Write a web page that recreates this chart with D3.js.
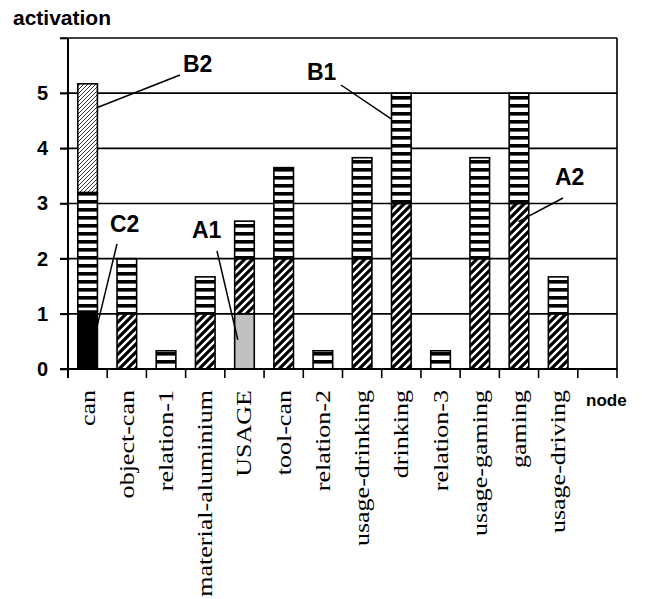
<!DOCTYPE html>
<html>
<head>
<meta charset="utf-8">
<script src="https://cdn.jsdelivr.net/npm/d3@7/dist/d3.min.js"></script>
<style>
  html, body { margin: 0; padding: 0; background: #fff; }
  svg { display: block; }
</style>
</head>
<body>
<svg id="chart" width="646" height="599"></svg>
<script>
// ---------- data ----------
const categories = ["can", "object-can", "relation-1", "material-aluminium", "USAGE", "tool-can",
  "relation-2", "usage-drinking", "drinking", "relation-3", "usage-gaming", "gaming", "usage-driving", ""];
// stacked segments, bottom to top
const solidValues   = [1.05, 0, 0, 0, 0, 0, 0, 0, 0, 0, 0, 0, 0, 0];
const grayValues    = [0, 0, 0, 0, 1, 0, 0, 0, 0, 0, 0, 0, 0, 0];
const hatchValues   = [0, 1, 0, 1, 1, 2, 0, 2, 3, 0, 2, 3, 1, 0];
const stripeValues  = [2.15, 1, 0.33, 0.67, 0.68, 1.65, 0.33, 1.83, 2, 0.33, 1.83, 2, 0.67, 0];
const fineValues    = [1.97, 0, 0, 0, 0, 0, 0, 0, 0, 0, 0, 0, 0, 0];
const seriesKeys = ["solid", "gray", "hatch", "stripe", "fine"];
const yTicks = [0, 1, 2, 3, 4, 5, 6];
const yTickLabels = ["0", "1", "2", "3", "4", "5", ""];
const yLabel = "activation";
const xLabel = "node";
// annotations: label, category pointed at, value pointed at
const annoLabels = ["B2", "B1", "C2", "A1", "A2"];
const annoCats   = ["can", "drinking", "can", "USAGE", "gaming"];
const annoValues = [4.74, 4.53, 0.8, 0.53, 2.67];

(function () {
// ---------- layout ----------
const svg = d3.select("#chart");
const mLeft = 68, mRight = 617, mTop = 38, mBottom = 369;

const x = d3.scaleBand().domain(categories).range([mLeft, mRight])
  .paddingInner(0.5).paddingOuter(0.25);
const y = d3.scaleLinear().domain([0, 6]).range([mBottom, mTop]);

const table = categories.map((c, i) => ({
  cat: c, solid: solidValues[i], gray: grayValues[i], hatch: hatchValues[i],
  stripe: stripeValues[i], fine: fineValues[i]
}));
const stacked = d3.stack().keys(seriesKeys)(table);

// ---------- patterns ----------
const defs = svg.append("defs");
const pStripe = defs.append("pattern").attr("id", "stripe")
  .attr("patternUnits", "userSpaceOnUse").attr("width", 8).attr("height", 8);
pStripe.append("rect").attr("width", 8).attr("height", 8).attr("fill", "#fff");
pStripe.append("rect").attr("y", 0).attr("width", 8).attr("height", 3.6).attr("fill", "#000");

const pHatch = defs.append("pattern").attr("id", "hatch")
  .attr("patternUnits", "userSpaceOnUse").attr("width", 8).attr("height", 8);
pHatch.append("rect").attr("width", 8).attr("height", 8).attr("fill", "#fff");
pHatch.append("path").attr("d", "M-2,2 L2,-2 M0,8 L8,0 M6,10 L10,6")
  .attr("stroke", "#000").attr("stroke-width", 3.2);

const pFine = defs.append("pattern").attr("id", "fine")
  .attr("patternUnits", "userSpaceOnUse").attr("width", 4).attr("height", 4);
pFine.append("rect").attr("width", 4).attr("height", 4).attr("fill", "#fff");
pFine.append("path").attr("d", "M-1,1 L1,-1 M0,4 L4,0 M3,5 L5,3")
  .attr("stroke", "#333").attr("stroke-width", 1);

const fills = { solid: "#000", gray: "#c0c0c0", hatch: "url(#hatch)", stripe: "url(#stripe)", fine: "url(#fine)" };

// ---------- grid & frame ----------
svg.append("g").selectAll("line").data(yTicks.filter(t => t > 0)).join("line")
  .attr("x1", mLeft - 8).attr("x2", mRight)
  .attr("y1", d => y(d)).attr("y2", d => y(d))
  .attr("stroke", "#000").attr("stroke-width", 1.6);

svg.append("line").attr("x1", mRight).attr("x2", mRight).attr("y1", mTop).attr("y2", mBottom)
  .attr("stroke", "#000").attr("stroke-width", 1.6);

// ---------- bars ----------
svg.append("g").selectAll("g").data(stacked).join("g")
  .attr("fill", d => fills[d.key])
  .selectAll("rect").data(d => d.filter(s => s[1] - s[0] > 0)).join("rect")
  .attr("x", d => x(d.data.cat))
  .attr("width", x.bandwidth())
  .attr("y", d => y(d[1]))
  .attr("height", d => y(d[0]) - y(d[1]))
  .attr("stroke", "#000").attr("stroke-width", 1.6);

// ---------- axes ----------
const yAxis = d3.axisLeft(y).tickValues(yTicks).tickFormat((d, i) => yTickLabels[i])
  .tickSize(8).tickPadding(12);
const gy = svg.append("g").attr("transform", `translate(${mLeft},0)`).call(yAxis);
gy.select(".domain").attr("stroke-width", 2).attr("d", `M0,${mTop}V${mBottom + 9}`);
gy.selectAll(".tick line").attr("stroke-width", 1.6);
gy.selectAll(".tick text")
  .attr("font-family", "Liberation Sans, Arial, sans-serif")
  .attr("font-weight", "bold").attr("font-size", 20).attr("fill", "#000");

svg.append("line").attr("x1", mLeft - 8).attr("x2", mRight).attr("y1", mBottom).attr("y2", mBottom)
  .attr("stroke", "#000").attr("stroke-width", 2);
const step = x.step();
const boundaries = categories.map(c => x(c) - (step - x.bandwidth()) / 2).concat([mRight]);
svg.append("g").selectAll("line").data(boundaries).join("line")
  .attr("x1", d => d).attr("x2", d => d)
  .attr("y1", mBottom).attr("y2", mBottom + 9)
  .attr("stroke", "#000").attr("stroke-width", 1.6);

// category labels
svg.append("g").selectAll("text").data(categories.filter(c => c !== "")).join("text")
  .attr("transform", c => `translate(${x(c) + x.bandwidth() / 2 + 7},390) rotate(-90) scale(1.24,1)`)
  .attr("text-anchor", "end")
  .attr("font-family", "Liberation Serif, Times New Roman, serif")
  .attr("font-size", 21).attr("fill", "#000")
  .text(c => c);

// axis titles
svg.append("text").attr("x", 13).attr("y", 25)
  .attr("font-family", "Liberation Sans, Arial, sans-serif").attr("font-weight", "bold")
  .attr("font-size", 21).text(yLabel);
svg.append("text").attr("x", 586).attr("y", 406)
  .attr("font-family", "Liberation Sans, Arial, sans-serif").attr("font-weight", "bold")
  .attr("font-size", 17).text(xLabel);

// ---------- annotations ----------
const annoFrac = [1, 0, 1, 0.16, 0.47];          // where along the bar width the leader ends
const annoText = [[183, 72], [307, 80], [110, 232], [192, 238], [555, 185]];
const annoStart = [[180, 75], [341, 85], [117, 244], [217, 251], [563, 198]];
const ga = svg.append("g");
annoLabels.forEach((lab, i) => {
  const tx = x(annoCats[i]) + annoFrac[i] * x.bandwidth();
  ga.append("line")
    .attr("x1", annoStart[i][0]).attr("y1", annoStart[i][1])
    .attr("x2", tx).attr("y2", y(annoValues[i]))
    .attr("stroke", "#000").attr("stroke-width", 1.5);
  ga.append("text").attr("x", annoText[i][0]).attr("y", annoText[i][1])
    .attr("font-family", "Liberation Sans, Arial, sans-serif").attr("font-weight", "bold")
    .attr("font-size", 23).text(lab);
});
})();
</script>
</body>
</html>
